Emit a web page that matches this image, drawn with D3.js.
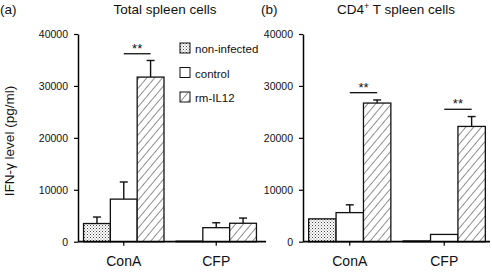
<!DOCTYPE html>
<html>
<head>
<meta charset="utf-8">
<script src="https://cdn.jsdelivr.net/npm/d3@7"></script>
<style>
  body { margin: 0; background: #fff; }
  svg text { font-family: "Liberation Sans", Arial, sans-serif; fill: #111; }
</style>
</head>
<body>
<svg id="body" width="492" height="273"></svg>
<script>
// data
const categories = ["ConA", "CFP"];
const series = ["non-infected", "control", "rm-IL12"];
const yTicks = [0, 10000, 20000, 30000, 40000];

// rows = categories, columns = series
const totalMean = [[3500, 8200, 31700], [100, 2700, 3550]];
const totalErr = [[1250, 3300, 3200], [0, 950, 1000]];
const totalSig = [{ cat: "ConA", from: 1, to: 2, y: 36200 }];

const cd4Mean = [[4400, 5600, 26700], [150, 1400, 22200]];
const cd4Err = [[0, 1500, 600], [0, 0, 1900]];
const cd4Sig = [
    { cat: "ConA", from: 1, to: 2, y: 28700 },
    { cat: "CFP", from: 1, to: 2, y: 25500 }
];

let svg = d3.select("#body");

// fill patterns
let defs = svg.append("defs");
let dots = defs.append("pattern")
    .attr("id", "dots")
    .attr("patternUnits", "userSpaceOnUse")
    .attr("width", 3).attr("height", 3);
dots.append("rect").attr("width", 3).attr("height", 3).attr("fill", "#fff");
dots.append("rect").attr("width", 1).attr("height", 1).attr("fill", "#444");
dots.append("rect").attr("x", 1.5).attr("y", 1.5).attr("width", 1).attr("height", 1).attr("fill", "#777");

let hatch = defs.append("pattern")
    .attr("id", "hatch")
    .attr("patternUnits", "userSpaceOnUse")
    .attr("width", 6).attr("height", 6)
    .attr("patternTransform", "rotate(40)");
hatch.append("rect").attr("width", 6).attr("height", 6).attr("fill", "#fff");
hatch.append("line").attr("x1", 0).attr("y1", 0).attr("x2", 0).attr("y2", 6)
    .attr("stroke", "#222").attr("stroke-width", 1);

const fills = ["url(#dots)", "#fff", "url(#hatch)"];

let yScale = d3.scaleLinear()
    .domain([0, 40000])
    .range([241.7, 34]);

function drawPanel(opt) {
    let g = svg.append("g");

    let xScale = d3.scaleBand()
        .domain(categories)
        .range([opt.x0, opt.x1])
        .paddingInner(0.13)
        .paddingOuter(0.06);

    let sub = d3.scaleBand()
        .domain(d3.range(series.length))
        .range([0, xScale.bandwidth()]);

    // y axis
    let yAxis = d3.axisLeft(yScale)
        .tickValues(yTicks)
        .tickFormat(d3.format("d"))
        .tickSize(4)
        .tickPadding(6)
        .tickSizeOuter(0);
    let ya = g.append("g")
        .attr("transform", `translate(${opt.x0}, 0)`)
        .call(yAxis);
    ya.select(".domain").attr("stroke-width", 1.5);
    ya.selectAll(".tick line").attr("stroke-width", 1.2);
    ya.selectAll("text").style("font-size", "10.5px");

    // bars
    let rows = [];
    opt.mean.forEach((vals, ci) => vals.forEach((v, si) => {
        rows.push({ cat: categories[ci], s: si, v: v, e: opt.err[ci][si] });
    }));

    g.selectAll("rect.bar")
        .data(rows)
        .enter()
        .append("rect")
        .attr("class", "bar")
        .attr("x", d => xScale(d.cat) + sub(d.s))
        .attr("width", sub.bandwidth())
        .attr("y", d => yScale(d.v))
        .attr("height", d => yScale(0) - yScale(d.v))
        .attr("fill", d => fills[d.s])
        .attr("stroke", "#111")
        .attr("stroke-width", 1.3);

    // error bars (upper only)
    let withErr = rows.filter(d => d.e > 0);
    g.selectAll("line.err")
        .data(withErr)
        .enter()
        .append("line")
        .attr("class", "err")
        .attr("x1", d => xScale(d.cat) + sub(d.s) + sub.bandwidth() / 2)
        .attr("x2", d => xScale(d.cat) + sub(d.s) + sub.bandwidth() / 2)
        .attr("y1", d => yScale(d.v))
        .attr("y2", d => yScale(d.v + d.e))
        .attr("stroke", "#111")
        .attr("stroke-width", 1.4);
    g.selectAll("line.cap")
        .data(withErr)
        .enter()
        .append("line")
        .attr("class", "cap")
        .attr("x1", d => xScale(d.cat) + sub(d.s) + sub.bandwidth() / 2 - 4)
        .attr("x2", d => xScale(d.cat) + sub(d.s) + sub.bandwidth() / 2 + 4)
        .attr("y1", d => yScale(d.v + d.e))
        .attr("y2", d => yScale(d.v + d.e))
        .attr("stroke", "#111")
        .attr("stroke-width", 1.4);

    // x axis
    let xAxis = d3.axisBottom(xScale)
        .tickSize(4)
        .tickPadding(10)
        .tickSizeOuter(0);
    let xa = g.append("g")
        .attr("transform", `translate(0, ${yScale(0)})`)
        .call(xAxis);
    xa.select(".domain").attr("d", `M${opt.x0},0H${opt.xEnd}`).attr("stroke-width", 1.8);
    xa.selectAll(".tick line").attr("stroke-width", 1.2);
    xa.selectAll("text").style("font-size", "14px");

    // significance marks
    let sig = g.selectAll("g.sig")
        .data(opt.sig)
        .enter()
        .append("g")
        .attr("class", "sig");
    let cx = (d, s) => xScale(d.cat) + sub(s) + sub.bandwidth() / 2;
    sig.append("line")
        .attr("x1", d => cx(d, d.from))
        .attr("x2", d => cx(d, d.to))
        .attr("y1", d => yScale(d.y))
        .attr("y2", d => yScale(d.y))
        .attr("stroke", "#111")
        .attr("stroke-width", 1.3);
    sig.append("text")
        .attr("x", d => (cx(d, d.from) + cx(d, d.to)) / 2)
        .attr("y", d => yScale(d.y) - 1)
        .attr("text-anchor", "middle")
        .style("font-size", "13px")
        .text("**");

    // panel letter + title
    g.append("text")
        .attr("x", opt.letterX)
        .attr("y", 14)
        .style("font-size", "13.5px")
        .text(opt.letter);
    let title = g.append("text")
        .attr("x", opt.titleX)
        .attr("y", 14)
        .attr("text-anchor", "middle")
        .style("font-size", "13.5px");
    title.append("tspan").text(opt.title[0]);
    if (opt.title.length > 1) {
        title.append("tspan").attr("dy", -5).style("font-size", "9px").text(opt.title[1]);
        title.append("tspan").attr("dy", 5).text(opt.title[2]);
    }
}

drawPanel({
    x0: 78, x1: 262, xEnd: 266,
    mean: totalMean, err: totalErr, sig: totalSig,
    letter: "(a)", letterX: 0, title: ["Total spleen cells"], titleX: 165
});

drawPanel({
    x0: 303, x1: 491, xEnd: 490,
    mean: cd4Mean, err: cd4Err, sig: cd4Sig,
    letter: "(b)", letterX: 261, title: ["CD4", "+", " T spleen cells"], titleX: 396
});

// y label
svg.append("text")
    .attr("transform", "translate(14, 141) rotate(-90)")
    .attr("text-anchor", "middle")
    .style("font-size", "13.5px")
    .text("IFN-\u03b3 level (pg/ml)");

// legend
let legend = svg.selectAll("g.legend")
    .data(series)
    .enter()
    .append("g")
    .attr("class", "legend")
    .attr("transform", (d, i) => `translate(180, ${43 + i * 24.5})`);
legend.append("rect")
    .attr("width", 10).attr("height", 10)
    .attr("fill", (d, i) => fills[i])
    .attr("stroke", "#111")
    .attr("stroke-width", 1);
legend.append("text")
    .attr("x", 15)
    .attr("y", 10)
    .style("font-size", "11.5px")
    .text(d => d);
</script>
</body>
</html>
